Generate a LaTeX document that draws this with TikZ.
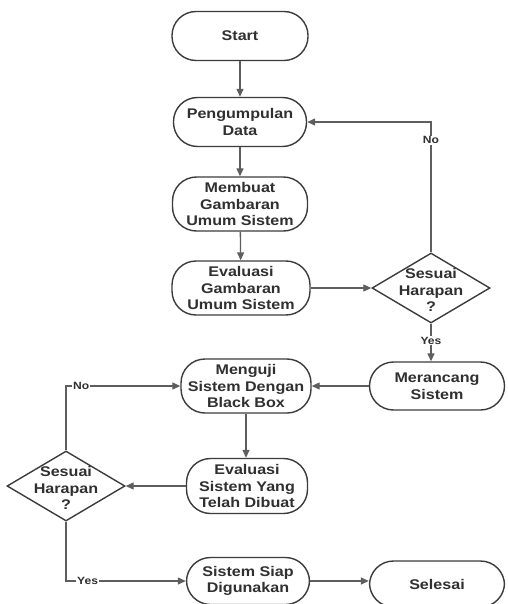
\documentclass[tikz,border=0pt]{standalone}
\usepackage{fontspec}
\setmainfont{Liberation Sans}[FakeStretch=1.15]
\usetikzlibrary{shapes.geometric,arrows.meta}
\definecolor{linec}{HTML}{5E5E5E}
\definecolor{boxc}{HTML}{3C3C3C}
\definecolor{txtc}{HTML}{303030}
\tikzset{
  term/.style={draw=boxc, line width=1.4pt, rounded corners=24pt, align=center,
    inner sep=0pt, text=txtc, font=\fontsize{14}{16.5}\selectfont\bfseries},
  dec/.style={draw=boxc, line width=1.4pt, diamond, minimum width=118pt,
    minimum height=70pt, inner sep=0pt},
  dectext/.style={align=center, text=txtc, font=\fontsize{14}{16.5}\selectfont\bfseries},
  conn/.style={draw=linec, line width=1.3pt, -{Triangle[length=8pt,width=7pt]}},
  lab/.style={fill=white, inner sep=1pt, text=txtc, font=\fontsize{10.5}{12}\selectfont\bfseries},
}
\begin{document}
\begin{tikzpicture}[x=1pt,y=-1pt]
\clip (0,0) rectangle (507,604);
\fill[white] (0,0) rectangle (507,604);
\node[term, minimum width=136pt, minimum height=49pt] (start) at (240,36) {Start};
\node[term, minimum width=133pt, minimum height=49pt] (peng) at (240,122) {Pengumpulan\\Data};
\node[term, minimum width=135pt, minimum height=54pt] (buat) at (240,204) {Membuat\\Gambaran\\Umum Sistem};
\node[term, minimum width=138pt, minimum height=54pt] (eval) at (241,288) {Evaluasi\\Gambaran\\Umum Sistem};
\node[dec] (d1) at (431,288) {};
\node[dectext] (d1t) at (431,290) {Sesuai\\Harapan\\?};
\node[term, minimum width=135pt, minimum height=48pt] (ranc) at (437,386) {Merancang\\Sistem};
\node[term, minimum width=130pt, minimum height=54pt] (uji) at (246,386) {Menguji\\Sistem Dengan\\Black Box};
\node[term, minimum width=121pt, minimum height=55pt] (evs) at (247,486) {Evaluasi\\Sistem Yang\\Telah Dibuat};
\node[dec] (d2) at (66,486) {};
\node[dectext] (d2t) at (66,488) {Sesuai\\Harapan\\?};
\node[term, minimum width=123pt, minimum height=47pt] (siap) at (248,581) {Sistem Siap\\Digunakan};
\node[term, minimum width=135pt, minimum height=46pt] (sel) at (437,584) {Selesai};

\draw[conn] (start) -- (peng);
\draw[conn] (peng) -- (buat);
\draw[conn] (buat) -- (eval);
\draw[conn] (eval) -- (d1);
\draw[conn] (d1.north) |- node[lab, pos=0.43] {No} (peng.east);
\draw[conn] (d1.south) -- node[lab, pos=0.45] {Yes} (d1.south |- ranc.north);
\draw[conn] (ranc) -- (uji);
\draw[conn] (uji.south) -- (uji.south |- evs.north);
\draw[conn] (evs) -- (d2);
\draw[conn] (d2.north) |- node[lab, pos=0.566] {No} (uji.west);
\draw[conn] (d2.south) |- node[lab, pos=0.59] {Yes} (siap.west);
\draw[conn] (siap.east) -- (siap.east -| sel.west);
\end{tikzpicture}
\end{document}
